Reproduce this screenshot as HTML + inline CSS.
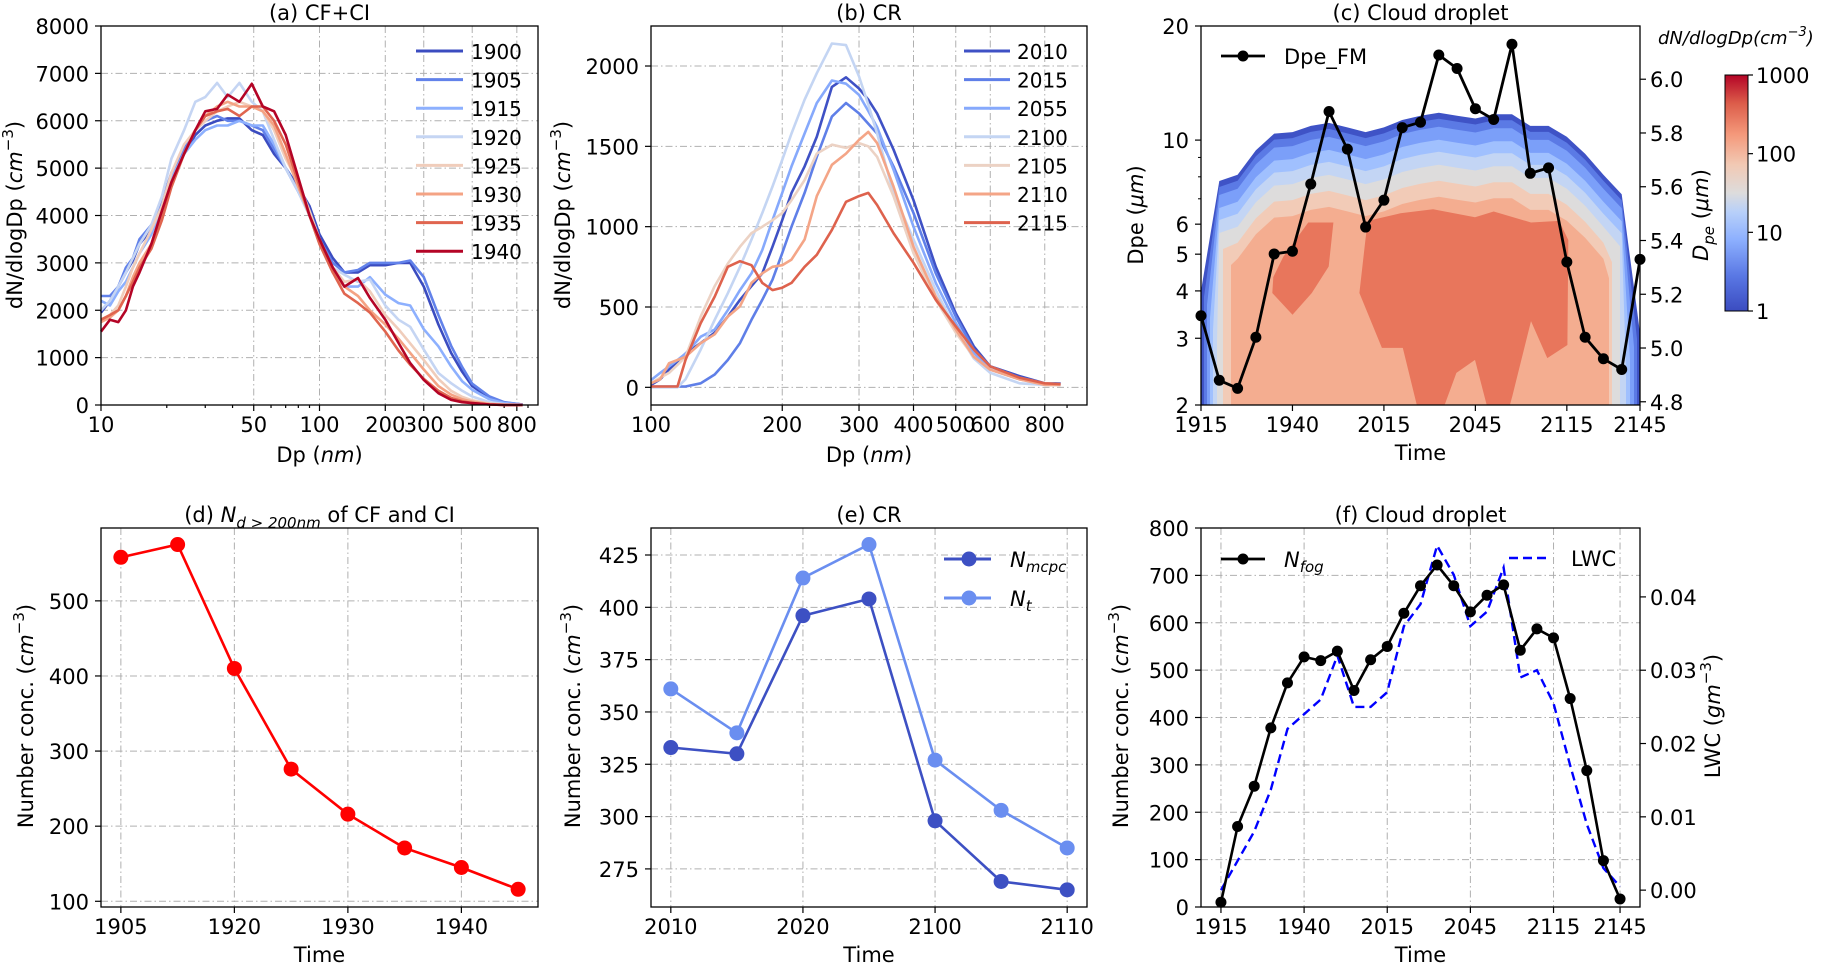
<!DOCTYPE html>
<html><head><meta charset="utf-8"><style>
html,body{margin:0;padding:0;background:#fff;}
svg{display:block;font-family:"DejaVu Sans","Liberation Sans",sans-serif;}
</style></head><body>
<svg id="fig" width="1824" height="963" viewBox="0 0 1824 963" xmlns="http://www.w3.org/2000/svg">
<defs>
<linearGradient id="cbgrad" x1="0" y1="1" x2="0" y2="0">
<stop offset="0" stop-color="#3b4cc0"/><stop offset="0.15" stop-color="#5a78e4"/><stop offset="0.3" stop-color="#8caffe"/>
<stop offset="0.42" stop-color="#b8d0f9"/><stop offset="0.5" stop-color="#dddcdc"/><stop offset="0.62" stop-color="#f2c9b4"/>
<stop offset="0.75" stop-color="#f4987a"/><stop offset="0.88" stop-color="#dc5d4a"/><stop offset="1" stop-color="#b40426"/>
</linearGradient>
<clipPath id="clipC"><rect x="1201" y="26" width="439" height="379"/></clipPath>
</defs>
</svg>
<script>
// ---------- data ----------
const dpA = [10,11,12,13,14,15,17,19,21,24,27,30,34,38,43,49,55,62,70,80,90,100,115,130,150,170,200,230,260,300,350,400,450,500,600,700,850];
const yearsA = ['1900','1905','1915','1920','1925','1930','1935','1940'];
const a1900 = [1950,2200,2500,2800,3050,3400,3700,4200,4800,5300,5700,5900,6000,6050,6050,5800,5700,5300,5000,4600,4200,3600,3100,2800,2800,2950,2950,3000,3000,2500,1700,1100,700,400,150,50,10];
const a1905 = [2300,2300,2500,2900,3100,3500,3800,4300,4900,5400,5800,6000,6100,6000,6000,5900,5800,5400,5000,4500,4100,3500,3000,2800,2850,3000,3000,3000,3050,2700,1900,1250,800,450,180,60,10];
const a1915 = [2200,2100,2400,2600,2900,3200,3600,4200,4800,5300,5600,5800,5900,5900,6000,5900,5900,5500,5000,4500,4000,3400,2800,2500,2500,2700,2330,2150,2100,1600,1240,815,500,320,120,40,10];
const a1920 = [2000,2200,2500,2800,3100,3400,3800,4400,5200,5800,6400,6500,6800,6500,6800,6400,6200,5600,5000,4500,4000,3400,2900,2750,2600,2650,2100,1800,1650,1170,675,460,300,180,60,20,5];
const a1925 = [1800,1900,2100,2500,2900,3200,3700,4200,4900,5500,5800,6000,6200,6300,6400,6300,6200,5800,5200,4700,4100,3500,2900,2600,2650,2400,1900,1600,1300,950,550,300,170,100,30,10,0];
const a1930 = [1750,1850,2000,2300,2700,3000,3400,4000,4700,5300,5800,6100,6300,6400,6300,6300,6200,5900,5300,4600,4000,3400,2800,2500,2300,2000,1700,1400,1100,750,400,220,120,70,20,5,0];
const a1935 = [1800,1900,2000,2300,2600,2900,3300,3900,4600,5300,5800,6100,6200,6250,6100,6300,6300,6000,5500,4700,4000,3400,2800,2350,2150,1950,1550,1150,850,550,300,150,80,40,10,0,0];
const a1940 = [1550,1800,1750,2000,2500,2800,3400,4100,4700,5300,5800,6200,6250,6550,6400,6780,6300,6200,5700,4800,4000,3500,2900,2500,2680,2260,1800,1310,885,530,250,110,60,40,10,0,0];
const seriesA = [a1900,a1905,a1915,a1920,a1925,a1930,a1935,a1940];

const dpB = [100,105,110,115,120,130,140,150,160,170,180,190,200,210,225,240,260,280,300,315,330,360,400,450,500,550,600,700,800,870];
const yearsB = ['2010','2015','2055','2100','2105','2110','2115'];
const b2010 = [15,50,110,160,210,275,340,440,545,630,710,875,1040,1210,1375,1560,1870,1930,1860,1790,1705,1480,1165,750,460,255,130,70,25,25];
const b2015 = [5,5,5,5,5,25,80,170,275,420,545,670,835,1000,1210,1435,1685,1770,1705,1640,1580,1375,1085,710,440,235,130,60,25,25];
const b2055 = [45,90,130,170,210,315,360,480,605,710,855,1040,1210,1375,1580,1770,1910,1890,1820,1720,1620,1355,1000,650,400,215,110,50,25,20];
const b2100 = [0,0,0,0,50,235,420,585,750,920,1085,1250,1415,1580,1790,1955,2140,2130,1935,1760,1580,1210,920,605,360,180,90,25,15,15];
const b2105 = [25,60,90,140,190,440,630,770,875,960,1000,1040,1085,1165,1290,1455,1510,1490,1520,1500,1435,1190,835,545,340,190,110,50,25,20];
const b2110 = [25,50,150,170,190,275,330,440,505,650,710,750,760,795,920,1190,1385,1455,1540,1590,1520,1250,875,565,360,190,110,50,15,15];
const b2115 = [5,5,5,5,170,400,565,750,785,760,650,605,620,650,750,825,980,1155,1190,1210,1135,960,775,545,380,235,130,60,25,20];
const seriesB = [b2010,b2015,b2055,b2100,b2105,b2110,b2115];

const timeLabelsCF = ['1915','1940','2015','2045','2115','2145'];
const timeTickIdx = [0,5,10,15,20,24];
const dpeFM = [5.12,4.88,4.85,5.04,5.35,5.36,5.61,5.88,5.74,5.45,5.55,5.82,5.84,6.09,6.04,5.89,5.85,6.13,5.65,5.67,5.32,5.04,4.96,4.92,5.33];
const envTop = [4.0,7.8,8.1,9.4,10.4,10.5,10.9,11.1,10.8,10.5,10.8,11.3,11.6,11.8,11.6,11.4,11.7,11.7,10.9,10.9,10.2,9.2,8.1,7.2,3.1];
const blob1Idx = [3.9,3.95,4.5,5.86,7.24,6.98,6.06,5.0];
const blob1Dpe = [3.95,4.35,4.92,6.06,6.06,4.64,3.95,3.46];
const blob2Idx = [8.66,8.99,9.12,10.9,12.69,14.98,16,18.04,19.57,20.08,20.03,18.93,18.04,17.02,16.89,15.62,14.98,13.96,13.32,11.8,11.03,9.89];
const blob2Dpe = [3.95,5.45,6.12,6.41,6.57,6.26,6.48,6.06,6.12,5.45,2.88,2.66,3.33,2.11,2.0,2.0,2.63,2.43,2.0,2.0,2.83,2.83];

const dLabels = ['1905','1920','1930','1940'];
const dTickIdx = [0,2,4,6];
const nD200 = [558,575,410,276,216,171,145,116];

const eLabels = ['2010','2020','2100','2110'];
const eTickIdx = [0,2,4,6];
const nMcpc = [333,330,396,404,298,269,265];
const nT = [361,340,414,430,327,303,285];

const nFog = [10,170,255,378,473,528,520,540,457,522,550,620,678,722,678,623,658,680,542,587,568,440,288,98,17];
const lwc = [0.000,0.004,0.008,0.0137,0.022,0.024,0.026,0.032,0.025,0.025,0.027,0.036,0.039,0.047,0.043,0.036,0.038,0.044,0.029,0.030,0.0255,0.017,0.009,0.003,0.0005];

// ---------- helpers ----------
const svg = document.getElementById('fig');
const NS = 'http://www.w3.org/2000/svg';
function mk(tag, attrs, name, parent){
  const el = document.createElementNS(NS, tag);
  for (const k in attrs) el.setAttribute(k, attrs[k]);
  
  
  (parent || svg).appendChild(el);
  return el;
}
function lin(d0,d1,r0,r1){return v => r0 + (v-d0)/(d1-d0)*(r1-r0);}
function lg(d0,d1,r0,r1){const a=Math.log10(d0),b=Math.log10(d1);return v => r0 + (Math.log10(v)-a)/(b-a)*(r1-r0);}
const GRID = {stroke:'#b0b0b0','stroke-width':1,'stroke-dasharray':'7,3,1.5,3'};
function text(x,y,s,opt,name){
  const t = mk('text', Object.assign({x:x,y:y,'font-size':21,fill:'#000'},opt||{}), name);
  t.textContent = s; return t;
}
function richText(x,y,parts,opt,name){
  const t = mk('text', Object.assign({x:x,y:y,'font-size':21,fill:'#000'},opt||{}), name);
  parts.forEach(p=>{const ts=document.createElementNS(NS,'tspan');for(const k in p.a||{})ts.setAttribute(k,p.a[k]);ts.textContent=p.t;t.appendChild(ts);});
  return t;
}
function frame(b,name){ mk('rect',{x:b.l,y:b.t,width:b.r-b.l,height:b.b-b.t,fill:'none',stroke:'#000','stroke-width':1.3},name); }
function xTick(b,x,label,name,grid,minor){
  if(grid) mk('line',Object.assign({x1:x,x2:x,y1:b.t,y2:b.b},GRID),name+'-grid');
  mk('line',{x1:x,x2:x,y1:b.b,y2:b.b+(minor?3:6),stroke:'#000','stroke-width':1.2},name+'-tick');
  if(label!==null) text(x,b.b+27,label,{'text-anchor':'middle'},name+'-label');
}
function yTick(b,y,label,name,grid){
  if(grid) mk('line',Object.assign({x1:b.l,x2:b.r,y1:y,y2:y},GRID),name+'-grid');
  mk('line',{x1:b.l-6,x2:b.l,y1:y,y2:y,stroke:'#000','stroke-width':1.2},name+'-tick');
  text(b.l-12,y+8,label,{'text-anchor':'end'},name+'-label');
}
function yTickR(b,y,label,name){
  mk('line',{x1:b.r,x2:b.r+6,y1:y,y2:y,stroke:'#000','stroke-width':1.2},name+'-tick');
  text(b.r+10,y+8,label,{'text-anchor':'start'},name+'-label');
}
function poly(xs,ys,opt,name){
  const pts = xs.map((x,i)=>x.toFixed(1)+','+ys[i].toFixed(1)).join(' ');
  return mk('polyline',Object.assign({points:pts,fill:'none'},opt),name);
}
function vlabel(x,y,parts,name,opt){
  return richText(0,0,parts,Object.assign({transform:`translate(${x},${y}) rotate(-90)`,'text-anchor':'middle'},opt||{}),name);
}
const cm3 = [{t:'('},{t:'cm',a:{'font-style':'italic'}},{t:'−3',a:{'font-size':15,dy:-9}},{t:')',a:{dy:9}}];
const colA = ['#3b4cc0','#6282ea','#8db0fe','#c5d5f3','#f0cdbb','#f4a384','#e0654f','#b40426'];
const colB = ['#3f51c5','#5f7fe8','#86a9fc','#c4d5f3','#ecd2c4','#f4a587','#de624d'];

// ---------- panel a ----------
(function(){
  const b={l:101,r:538,t:26,b:405};
  const X=lg(10,1000,b.l,b.r), Y=lin(0,8000,b.b,b.t);
  [10,50,100,200,300,500,800].forEach(v=>xTick(b,X(v),String(v),'a-x-'+v,v!==10,false));
  [20,30,40,60,70,80,90,400,600,700,900].forEach(v=>xTick(b,X(v),null,'a-x-minor-'+v,false,true));
  for(let v=0;v<=8000;v+=1000) yTick(b,Y(v),String(v),'a-y-'+v,v>0&&v<8000);
  seriesA.forEach((s,k)=>poly(dpA.map(X),s.map(Y),{stroke:colA[k],'stroke-width':2.6,'stroke-linejoin':'round'},'a-line-'+yearsA[k]));
  frame(b,'a-axes-frame');
  yearsA.forEach((y,k)=>{const yy=51+k*28.6;
    mk('line',{x1:416,x2:463,y1:yy,y2:yy,stroke:colA[k],'stroke-width':3},'a-legend-line-'+y);
    text(471,yy+8,y,{'font-size':20},'a-legend-text-'+y);});
  text((b.l+b.r)/2,20,'(a) CF+CI',{'text-anchor':'middle'},'a-title');
  richText((b.l+b.r)/2,462,[{t:'Dp ('},{t:'nm',a:{'font-style':'italic'}},{t:')'}],{'text-anchor':'middle'},'a-x-axis-title');
  vlabel(22,215,[{t:'dN/dlogDp '}].concat(cm3),'a-y-axis-title');
})();

// ---------- panel b ----------
(function(){
  const b={l:651,r:1087,t:26,b:405};
  const X=lg(100,1000,b.l,b.r), Y=lin(-110,2249,b.b,b.t);
  [100,200,300,400,500,600,800].forEach(v=>xTick(b,X(v),String(v),'b-x-'+v,v!==100,false));
  [700,900].forEach(v=>xTick(b,X(v),null,'b-x-minor-'+v,false,true));
  [0,500,1000,1500,2000].forEach(v=>yTick(b,Y(v),String(v),'b-y-'+v,true));
  seriesB.forEach((s,k)=>poly(dpB.map(X),s.map(Y),{stroke:colB[k],'stroke-width':2.6,'stroke-linejoin':'round'},'b-line-'+yearsB[k]));
  frame(b,'b-axes-frame');
  yearsB.forEach((y,k)=>{const yy=51+k*28.6;
    mk('line',{x1:964,x2:1010,y1:yy,y2:yy,stroke:colB[k],'stroke-width':3},'b-legend-line-'+y);
    text(1017,yy+8,y,{'font-size':20},'b-legend-text-'+y);});
  text((b.l+b.r)/2,20,'(b) CR',{'text-anchor':'middle'},'b-title');
  richText((b.l+b.r)/2,462,[{t:'Dp ('},{t:'nm',a:{'font-style':'italic'}},{t:')'}],{'text-anchor':'middle'},'b-x-axis-title');
  vlabel(570,215,[{t:'dN/dlogDp '}].concat(cm3),'b-y-axis-title');
})();

// ---------- panel c ----------
(function(){
  const b={l:1201,r:1640,t:26,b:405};
  const X=lin(0,24,b.l,b.r), Y=lg(2,20,b.b,b.t), YR=lin(4.788,6.198,b.b,b.t);
  const g = mk('g',{'clip-path':'url(#clipC)'},'c-contour');
  const bandCols=['#3f53c6','#5b7ae5','#7b9ff9','#a0c0fe','#c3d5f4','#dddcdc','#f2cbb7','#f4ad90'];
  const offT=[0,6,14,27,39,52,68,84];
  const offL=[0,3,6,9,12,16,22,30];
  const offR=[0,3,6,10,14,20,28,31];
  bandCols.forEach((c,k)=>{
    const pts=[];
    const xl=X(0)+offL[k], xr=X(24)-offR[k];
    pts.push([xl,b.b]); pts.push([xl,Math.min(b.b,Y(envTop[0])+offT[k])]);
    for(let i=1;i<24;i++){let x=X(i); if(x<xl)x=xl; if(x>xr)x=xr; pts.push([x,Y(envTop[i])+offT[k]]);}
    pts.push([xr,Math.min(b.b,Y(envTop[24])+offT[k])]); pts.push([xr,b.b]);
    mk('polygon',{points:pts.map(p=>p[0].toFixed(1)+','+p[1].toFixed(1)).join(' '),fill:c},'c-contour-band-'+k,g);
  });
  mk('polygon',{points:blob1Idx.map((v,i)=>X(v).toFixed(1)+','+Y(blob1Dpe[i]).toFixed(1)).join(' '),fill:'#e8765c'},'c-contour-core-left',g);
  mk('polygon',{points:blob2Idx.map((v,i)=>X(v).toFixed(1)+','+Y(blob2Dpe[i]).toFixed(1)).join(' '),fill:'#e8765c'},'c-contour-core-main',g);
  timeTickIdx.forEach((v,i)=>xTick(b,X(v),timeLabelsCF[i],'c-x-'+timeLabelsCF[i],false,false));
  [2,3,4,5,6,10,20].forEach(v=>yTick(b,Y(v),String(v),'c-y-'+v,false));
  [7,8,9].forEach(v=>mk('line',{x1:b.l-3,x2:b.l,y1:Y(v),y2:Y(v),stroke:'#000','stroke-width':1},'c-y-minor-'+v));
  [4.8,5.0,5.2,5.4,5.6,5.8,6.0].forEach(v=>yTickR(b,YR(v),v.toFixed(1),'c-yr-'+v));
  poly(dpeFM.map((v,i)=>X(i)),dpeFM.map(YR),{stroke:'#000','stroke-width':2.8,'stroke-linejoin':'round'},'c-dpe-fm-line');
  dpeFM.forEach((v,i)=>mk('circle',{cx:X(i),cy:YR(v),r:5.5,fill:'#000'},'c-dpe-fm-point'));
  frame(b,'c-axes-frame');
  mk('line',{x1:1221,x2:1265,y1:56,y2:56,stroke:'#000','stroke-width':2.8},'c-legend-line');
  mk('circle',{cx:1243,cy:56,r:5.5,fill:'#000'},'c-legend-marker');
  text(1284,64,'Dpe_FM',{'font-size':21},'c-legend-text');
  text((b.l+b.r)/2,20,'(c) Cloud droplet',{'text-anchor':'middle'},'c-title');
  text((b.l+b.r)/2,460,'Time',{'text-anchor':'middle'},'c-x-axis-title');
  vlabel(1143,215,[{t:'Dpe ('},{t:'μm',a:{'font-style':'italic'}},{t:')'}],'c-y-axis-title');
  vlabel(1708,215,[{t:'D',a:{'font-style':'italic'}},{t:'pe',a:{'font-style':'italic','font-size':15,dy:6}},{t:' (',a:{dy:-6}},{t:'μm',a:{'font-style':'italic'}},{t:')'}],'c-right-axis-title');
  // colorbar
  const cb={l:1725,r:1748,t:75,b:311};
  mk('rect',{x:cb.l,y:cb.t,width:cb.r-cb.l,height:cb.b-cb.t,fill:'url(#cbgrad)',stroke:'#000','stroke-width':1},'colorbar');
  const CY=lg(1,1000,cb.b,cb.t);
  [1,10,100,1000].forEach(v=>{mk('line',{x1:cb.r,x2:cb.r+5,y1:CY(v),y2:CY(v),stroke:'#000','stroke-width':1.2},'colorbar-tick-'+v);
    text(cb.r+8,CY(v)+8,String(v),{},'colorbar-label-'+v);});
  richText(1658,44,[{t:'dN/dlogDp(cm',a:{'font-style':'italic'}},{t:'−3',a:{'font-size':13,dy:-8,'font-style':'italic'}},{t:')',a:{dy:8,'font-style':'italic'}}],{'font-size':18},'colorbar-title');
})();

// ---------- panel d ----------
(function(){
  const b={l:101,r:538,t:528,b:907};
  const X=lin(-0.35,7.35,b.l,b.r), Y=lin(92.4,597,b.b,b.t);
  dTickIdx.forEach((v,i)=>xTick(b,X(v),dLabels[i],'d-x-'+dLabels[i],true,false));
  [100,200,300,400,500].forEach(v=>yTick(b,Y(v),String(v),'d-y-'+v,true));
  poly(nD200.map((v,i)=>X(i)),nD200.map(Y),{stroke:'#ff0000','stroke-width':2.6},'d-line');
  nD200.forEach((v,i)=>mk('circle',{cx:X(i),cy:Y(v),r:7.5,fill:'#ff0000'},'d-point'));
  frame(b,'d-axes-frame');
  richText((b.l+b.r)/2,522,[{t:'(d) '},{t:'N',a:{'font-style':'italic'}},{t:'d > 200nm',a:{'font-style':'italic','font-size':15,dy:6}},{t:' of CF and CI',a:{dy:-6}}],{'text-anchor':'middle'},'d-title');
  text((b.l+b.r)/2,962,'Time',{'text-anchor':'middle'},'d-x-axis-title');
  vlabel(33,716,[{t:'Number conc. '}].concat(cm3),'d-y-axis-title');
})();

// ---------- panel e ----------
(function(){
  const b={l:651,r:1087,t:528,b:907};
  const X=lin(-0.3,6.3,b.l,b.r), Y=lin(256.8,437.9,b.b,b.t);
  eTickIdx.forEach((v,i)=>xTick(b,X(v),eLabels[i],'e-x-'+eLabels[i],true,false));
  [275,300,325,350,375,400,425].forEach(v=>yTick(b,Y(v),String(v),'e-y-'+v,true));
  poly(nT.map((v,i)=>X(i)),nT.map(Y),{stroke:'#6a8ef0','stroke-width':2.6},'e-nt-line');
  nT.forEach((v,i)=>mk('circle',{cx:X(i),cy:Y(v),r:7.5,fill:'#6a8ef0'},'e-nt-point'));
  poly(nMcpc.map((v,i)=>X(i)),nMcpc.map(Y),{stroke:'#3d50c3','stroke-width':2.6},'e-nmcpc-line');
  nMcpc.forEach((v,i)=>mk('circle',{cx:X(i),cy:Y(v),r:7.5,fill:'#3d50c3'},'e-nmcpc-point'));
  frame(b,'e-axes-frame');
  mk('line',{x1:944,x2:991,y1:559,y2:559,stroke:'#3d50c3','stroke-width':3},'e-legend-line-nmcpc');
  mk('circle',{cx:969,cy:559,r:7.5,fill:'#3d50c3'},'e-legend-marker-nmcpc');
  richText(1010,567,[{t:'N',a:{'font-style':'italic'}},{t:'mcpc',a:{'font-style':'italic','font-size':15,dy:5}}],{},'e-legend-text-nmcpc');
  mk('line',{x1:944,x2:991,y1:598,y2:598,stroke:'#6a8ef0','stroke-width':3},'e-legend-line-nt');
  mk('circle',{cx:969,cy:598,r:7.5,fill:'#6a8ef0'},'e-legend-marker-nt');
  richText(1010,606,[{t:'N',a:{'font-style':'italic'}},{t:'t',a:{'font-style':'italic','font-size':15,dy:5}}],{},'e-legend-text-nt');
  text((b.l+b.r)/2,522,'(e) CR',{'text-anchor':'middle'},'e-title');
  text((b.l+b.r)/2,962,'Time',{'text-anchor':'middle'},'e-x-axis-title');
  vlabel(580,716,[{t:'Number conc. '}].concat(cm3),'e-y-axis-title');
})();

// ---------- panel f ----------
(function(){
  const b={l:1201,r:1640,t:528,b:907};
  const X=lin(-1.2,25.2,b.l,b.r), Y=lin(0,800,b.b,b.t), YR=lin(-0.0023,0.0494,b.b,b.t);
  timeTickIdx.forEach((v,i)=>xTick(b,X(v),timeLabelsCF[i],'f-x-'+timeLabelsCF[i],true,false));
  for(let v=0;v<=800;v+=100) yTick(b,Y(v),String(v),'f-y-'+v,v>0&&v<800);
  [0,0.01,0.02,0.03,0.04].forEach(v=>yTickR(b,YR(v),v.toFixed(2),'f-yr-'+v));
  poly(lwc.map((v,i)=>X(i)),lwc.map(YR),{stroke:'#0000ff','stroke-width':2.4,'stroke-dasharray':'9,5'},'f-lwc-line');
  poly(nFog.map((v,i)=>X(i)),nFog.map(Y),{stroke:'#000','stroke-width':2.6,'stroke-linejoin':'round'},'f-nfog-line');
  nFog.forEach((v,i)=>mk('circle',{cx:X(i),cy:Y(v),r:5.5,fill:'#000'},'f-nfog-point'));
  frame(b,'f-axes-frame');
  mk('line',{x1:1221,x2:1265,y1:559,y2:559,stroke:'#000','stroke-width':2.8},'f-legend-line-nfog');
  mk('circle',{cx:1243,cy:559,r:5.5,fill:'#000'},'f-legend-marker-nfog');
  richText(1284,567,[{t:'N',a:{'font-style':'italic'}},{t:'fog',a:{'font-style':'italic','font-size':15,dy:5}}],{},'f-legend-text-nfog');
  mk('line',{x1:1509,x2:1550,y1:558,y2:558,stroke:'#0000ff','stroke-width':2.6,'stroke-dasharray':'9,5'},'f-legend-line-lwc');
  text(1571,566,'LWC',{},'f-legend-text-lwc');
  text((b.l+b.r)/2,522,'(f) Cloud droplet',{'text-anchor':'middle'},'f-title');
  text((b.l+b.r)/2,962,'Time',{'text-anchor':'middle'},'f-x-axis-title');
  vlabel(1128,716,[{t:'Number conc. '}].concat(cm3),'f-y-axis-title');
  vlabel(1720,716,[{t:'LWC ('},{t:'gm',a:{'font-style':'italic'}},{t:'−3',a:{'font-size':15,dy:-9}},{t:')',a:{dy:9}}],'f-right-axis-title');
})();
</script>
</body></html>
